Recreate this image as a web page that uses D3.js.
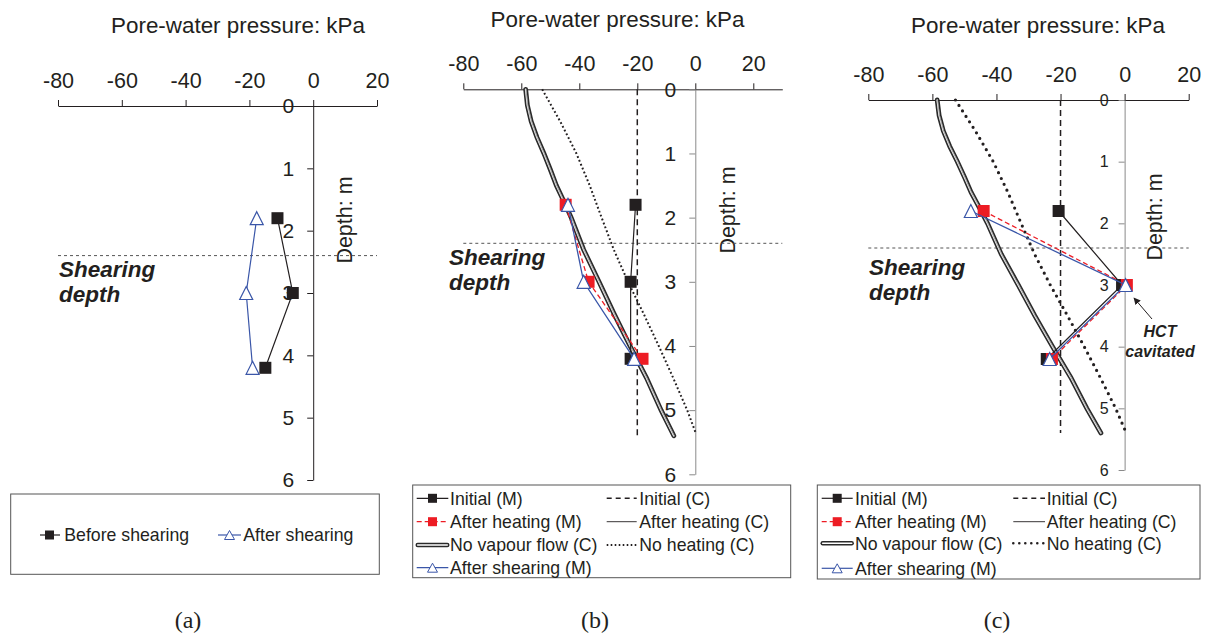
<!DOCTYPE html>
<html>
<head>
<meta charset="utf-8">
<script src="https://cdn.jsdelivr.net/npm/d3@7"></script>
<style>
  html, body { margin: 0; padding: 0; background: #fff; }
  svg { display: block; }
</style>
</head>
<body>
<svg id="chart" width="1209" height="637"></svg>
<script>
// ---------- DATA ----------
const xTicks = [-80, -60, -40, -20, 0, 20];
const depthTicks = [0, 1, 2, 3, 4, 5, 6];
const shearDepth = 2.4;

// Measured points (M) at HCT depths
const depthM = [1.8, 3.0, 4.2];
// panel (a)
const aBeforeShear = [-11.2, -6.4, -15.0];
const aAfterShear = [-17.7, -21.0, -19.0];
// panel (b)
const bInitialM = [-20.6, -22.3, -22.3];
const bHeatM = [-44.7, -36.8, -18.2];
const bShearM = [-43.9, -38.5, -21.1];
// panel (c)
const cInitialM = [-20.6, -0.8, -24.3];
const cHeatM = [-44.0, 0.7, -22.7];
const cShearM = [-48.0, 0.3, -23.4];

// Computed profiles (C)
const initialCDepth = [0, 5.4];
const initialC = [-20, -20];
const profDepth = [0, 0.25, 0.5, 0.75, 1, 1.25, 1.5, 1.75, 2, 2.5, 3, 3.5, 4, 4.5, 5, 5.4];
const noVapourC = [-58.5, -57.9, -56.6, -54.6, -52.2, -50.0, -47.9, -45.3, -42.8, -38.5, -33.2, -28.0, -22.5, -16.8, -11.8, -7.4];
const afterHeatC = [-58.4, -57.8, -56.5, -54.5, -52.1, -49.9, -47.8, -45.2, -42.7, -38.4, -33.1, -27.9, -22.4, -16.7, -11.7, -7.3];
const noHeatDepth = [0, 0.5, 1, 1.5, 2, 2.5, 3, 3.5, 4, 4.5, 5, 5.35];
const noHeatC = [-52.8, -46.6, -41.0, -36.4, -32.3, -28.1, -23.2, -17.8, -12.6, -7.6, -2.8, 0.1];

// ---------- STYLE ----------
const FONT = "'Liberation Sans', Arial, Helvetica, sans-serif";
const SERIF = "'Liberation Serif', 'Times New Roman', serif";
const INK = "#231f20";
const RED = "#ed1c24";
const BLUE = "#3a56a8";
const GRAY_AXIS = "#8a8a8a";

const svg = d3.select("#chart");

function zip(ds, vs) { return ds.map((d, i) => ({ d: d, v: vs[i] })); }

function drawPanel(o) {
  const x = d3.scaleLinear().domain(o.xDomain).range(o.xRange);
  const y = d3.scaleLinear().domain([0, 6]).range(o.yRange);
  const g = svg.append("g");
  const line = d3.line().x(p => x(p.v)).y(p => y(p.d));

  // title
  g.append("text").attr("x", o.titlePos[0]).attr("y", o.titlePos[1])
    .attr("text-anchor", "middle").attr("font-family", FONT).attr("font-size", 22.4)
    .attr("fill", INK).text("Pore-water pressure: kPa");

  // X axis (top)
  const xa = g.append("g").attr("transform", `translate(0,${y(0)})`)
    .call(d3.axisTop(x).tickValues(xTicks).tickSize(6).tickSizeOuter(0).tickPadding(12)
      .tickFormat(d => String(d)));
  xa.attr("font-family", FONT).attr("font-size", 21.5);
  xa.selectAll("text").attr("fill", INK);
  xa.selectAll("line, path").attr("stroke", INK).attr("stroke-width", 1);

  // Y axis at x = 0
  const ya = g.append("g").attr("transform", `translate(${x(0)},0)`)
    .call(d3.axisLeft(y).tickValues(depthTicks).tickSize(6).tickSizeOuter(0)
      .tickPadding(o.yPad).tickFormat(d => String(d)));
  ya.attr("font-family", FONT).attr("font-size", o.yFont);
  ya.selectAll("text").attr("fill", INK);
  ya.selectAll("line, path").attr("stroke", o.yAxisColor).attr("stroke-width", 1);

  // Depth label
  g.append("text").attr("transform", `translate(${o.depthPos[0]},${o.depthPos[1]}) rotate(-90)`)
    .attr("text-anchor", "middle").attr("dominant-baseline", "central")
    .attr("font-family", FONT).attr("font-size", 21.5).attr("fill", INK).text("Depth: m");

  // Shearing depth line
  g.append("line").attr("x1", x(o.xDomain[0])).attr("x2", x(o.xDomain[1]))
    .attr("y1", y(shearDepth)).attr("y2", y(shearDepth))
    .attr("stroke", "#555").attr("stroke-width", 1).attr("stroke-dasharray", "3,3");
  const st = g.append("text").attr("font-family", FONT).attr("font-size", 22.5)
    .attr("font-weight", "bold").attr("font-style", "italic").attr("fill", INK);
  st.append("tspan").attr("x", o.shearText[0]).attr("y", o.shearText[1]).text("Shearing");
  st.append("tspan").attr("x", o.shearText[0]).attr("y", o.shearText[1] + 25).text("depth");

  return { g, x, y, line };
}

function squares(P, data, color, size) {
  P.g.append("g").selectAll("rect").data(data).join("rect")
    .attr("x", p => P.x(p.v) - size / 2).attr("y", p => P.y(p.d) - size / 2)
    .attr("width", size).attr("height", size).attr("fill", color);
}
function triPath(cx, cy, w, h) {
  return `M${cx},${cy - h / 2}L${cx + w / 2},${cy + h / 2}L${cx - w / 2},${cy + h / 2}Z`;
}
function triangles(P, data, size) {
  P.g.append("g").selectAll("path").data(data).join("path")
    .attr("d", p => triPath(P.x(p.v), P.y(p.d), size, size))
    .attr("fill", "#fff").attr("stroke", BLUE).attr("stroke-width", 1.2);
}
function path(P, data, attrs) {
  const p = P.g.append("path").datum(data).attr("d", P.line).attr("fill", "none");
  Object.entries(attrs).forEach(([k, v]) => p.attr(k, v));
  return p;
}

// ---------- PANEL (a) ----------
const A = drawPanel({
  xDomain: [-80, 20], xRange: [58, 377], yRange: [106, 480],
  titlePos: [238, 33], yPad: 13, yFont: 21, yAxisColor: INK,
  depthPos: [345, 220], shearText: [59, 277]
});
path(A, zip(depthM, aBeforeShear), { stroke: INK, "stroke-width": 1.2 });
path(A, zip(depthM, aAfterShear), { stroke: BLUE, "stroke-width": 1.2 });
squares(A, zip(depthM, aBeforeShear), INK, 12);
triangles(A, zip(depthM, aAfterShear), 13);

// ---------- PANEL (b) & (c) ----------
function drawCPanel(P, dotStyle) {
  path(P, zip(initialCDepth, initialC), { stroke: INK, "stroke-width": 1.5, "stroke-dasharray": "6,4" });
  path(P, zip(noHeatDepth, noHeatC), dotStyle);
  path(P, zip(profDepth, noVapourC), { stroke: "#2a2a2a", "stroke-width": 4.8, "stroke-linecap": "round" });
  path(P, zip(profDepth, noVapourC), { stroke: "#fff", "stroke-width": 1.6, "stroke-linecap": "round" });
  path(P, zip(profDepth, afterHeatC), { stroke: "#000", "stroke-width": 0.8, "stroke-opacity": 0.45 });
}
function drawMPanel(P, init, heat, shear) {
  path(P, zip(depthM, init), { stroke: INK, "stroke-width": 1.2 });
  path(P, zip(depthM, heat), { stroke: RED, "stroke-width": 1.3, "stroke-dasharray": "5,3" });
  squares(P, zip(depthM, init), INK, 12);
  squares(P, zip(depthM, heat), RED, 12);
  path(P, zip(depthM, shear), { stroke: BLUE, "stroke-width": 1.3 });
  triangles(P, zip(depthM, shear), 13);
}

const B = drawPanel({
  xDomain: [-80, 30], xRange: [463.3, 782.3], yRange: [89.3, 474.3],
  titlePos: [617.5, 27], yPad: 13, yFont: 21, yAxisColor: GRAY_AXIS,
  depthPos: [728, 210], shearText: [449, 265]
});
drawCPanel(B, { stroke: INK, "stroke-width": 2, "stroke-dasharray": "1.8,2.4" });
drawMPanel(B, bInitialM, bHeatM, bShearM);

const C = drawPanel({
  xDomain: [-80, 20], xRange: [868.3, 1188.7], yRange: [100, 470],
  titlePos: [1038, 33], yPad: 10, yFont: 16, yAxisColor: GRAY_AXIS,
  depthPos: [1155, 217], shearText: [869, 275]
});
drawCPanel(C, { stroke: INK, "stroke-width": 3.2, "stroke-dasharray": "0,6.5", "stroke-linecap": "round" });
drawMPanel(C, cInitialM, cHeatM, cShearM);

// HCT cavitated annotation
svg.append("defs").append("marker").attr("id", "arr").attr("viewBox", "0 0 10 10")
  .attr("refX", 9).attr("refY", 5).attr("markerWidth", 7).attr("markerHeight", 7)
  .attr("orient", "auto").append("path").attr("d", "M0,0L10,5L0,10Z").attr("fill", INK);
svg.append("line").attr("x1", 1152).attr("y1", 319).attr("x2", 1134).attr("y2", 298)
  .attr("stroke", INK).attr("stroke-width", 1).attr("marker-end", "url(#arr)");
const hct = svg.append("text").attr("font-family", FONT).attr("font-size", 16)
  .attr("font-weight", "bold").attr("font-style", "italic").attr("fill", INK)
  .attr("text-anchor", "middle");
hct.append("tspan").attr("x", 1160).attr("y", 336.5).text("HCT");
hct.append("tspan").attr("x", 1160).attr("y", 356.5).text("cavitated");

// ---------- LEGENDS ----------
const LFS = 17.7;
function legendBox(x0, y0, x1, y1) {
  svg.append("rect").attr("x", x0).attr("y", y0).attr("width", x1 - x0).attr("height", y1 - y0)
    .attr("fill", "#fff").attr("stroke", "#555").attr("stroke-width", 1);
}
function legendText(x, y, t) {
  svg.append("text").attr("x", x).attr("y", y + 6.3).attr("font-family", FONT)
    .attr("font-size", LFS).attr("fill", INK).text(t);
}
function legendLine(x0, x1, y, attrs) {
  const l = svg.append("line").attr("x1", x0).attr("x2", x1).attr("y1", y).attr("y2", y);
  Object.entries(attrs).forEach(([k, v]) => l.attr(k, v));
}
function legendSquare(cx, cy, color) {
  svg.append("rect").attr("x", cx - 4.5).attr("y", cy - 4.5).attr("width", 9).attr("height", 9).attr("fill", color);
}
function legendTri(cx, cy) {
  svg.append("path").attr("d", triPath(cx, cy, 10, 9)).attr("fill", "#fff")
    .attr("stroke", BLUE).attr("stroke-width", 1);
}

// (a)
legendBox(10.7, 494, 379.3, 574.3);
legendLine(40, 60, 535, { stroke: INK, "stroke-width": 1.2 });
legendSquare(49.5, 535, INK);
legendText(64.3, 535, "Before shearing");
legendLine(218, 241, 535, { stroke: BLUE, "stroke-width": 1.2 });
legendTri(229.5, 535);
legendText(243.3, 535, "After shearing");

function legendBC(box, c1, c2, rows, dotStyle) {
  legendBox(...box);
  const [l0, l1, t1] = c1, [m0, m1, t2] = c2;
  const mid = (l0 + l1) / 2;
  legendLine(l0, l1, rows[0], { stroke: INK, "stroke-width": 1.2 });
  legendSquare(mid, rows[0], INK);
  legendText(t1, rows[0], "Initial (M)");
  legendLine(l0, l1, rows[1], { stroke: RED, "stroke-width": 1.3, "stroke-dasharray": "5,3" });
  legendSquare(mid, rows[1], RED);
  legendText(t1, rows[1], "After heating (M)");
  legendLine(l0 + 1, l1 - 1, rows[2], { stroke: "#2a2a2a", "stroke-width": 4.4, "stroke-linecap": "round" });
  legendLine(l0 + 1, l1 - 1, rows[2], { stroke: "#fff", "stroke-width": 1.6, "stroke-linecap": "round" });
  legendText(t1, rows[2], "No vapour flow (C)");
  legendLine(l0, l1, rows[3], { stroke: BLUE, "stroke-width": 1.2 });
  legendTri(mid, rows[3]);
  legendText(t1, rows[3], "After shearing (M)");
  legendLine(m0, m1, rows[0], { stroke: INK, "stroke-width": 1.4, "stroke-dasharray": "5,4" });
  legendText(t2, rows[0], "Initial (C)");
  legendLine(m0, m1, rows[1], { stroke: INK, "stroke-width": 0.9 });
  legendText(t2, rows[1], "After heating (C)");
  legendLine(m0, m1, rows[2], dotStyle);
  legendText(t2, rows[2], "No heating (C)");
}
legendBC([412.7, 485, 790.7, 577.7], [416.7, 448.3, 450], [606.7, 636.7, 639.3],
  [498.3, 521.7, 545, 567.7], { stroke: INK, "stroke-width": 1.8, "stroke-dasharray": "1.6,2.4" });
legendBC([817.3, 485, 1200, 579], [821.7, 852.7, 855], [1013.3, 1045, 1046.7],
  [498.3, 521.7, 543.3, 568.3], { stroke: INK, "stroke-width": 2.6, "stroke-dasharray": "0,6", "stroke-linecap": "round" });

// ---------- PANEL LABELS ----------
[["(a)", 188], ["(b)", 595], ["(c)", 997]].forEach(([t, cx]) => {
  svg.append("text").attr("x", cx).attr("y", 628).attr("text-anchor", "middle")
    .attr("font-family", SERIF).attr("font-size", 24).attr("fill", INK).text(t);
});
</script>
</body>
</html>
